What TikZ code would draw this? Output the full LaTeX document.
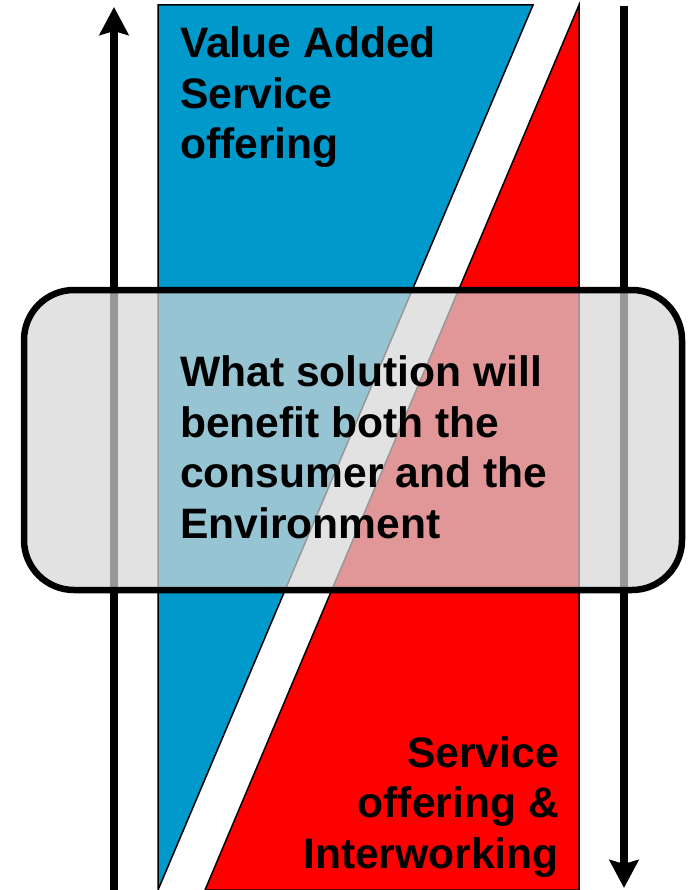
\documentclass[tikz,border=0pt]{standalone}
\usepackage{fontspec}
\setmainfont{Liberation Sans}
\definecolor{ValueBlue}{RGB}{0,153,204}
\definecolor{OfferRed}{RGB}{255,0,0}
\definecolor{PanelGray}{RGB}{214,214,214}
\usetikzlibrary{arrows.meta,positioning}

\begin{document}
\begin{tikzpicture}[x=1pt,y=-1pt,
    band/.style={draw=black,line width=1.5pt,line join=miter},
    flow/.style={-{Stealth[length=28pt,width=29pt,inset=4pt]},line width=8.5pt},
    panel/.style={draw=black,line width=6.5pt,fill=PanelGray,fill opacity=0.71,
                  rounded corners=50pt,minimum width=658pt,minimum height=300pt,inner sep=0pt},
    lbl/.style={font=\bfseries\fontsize{42.6}{50.5}\selectfont,inner sep=0pt}]
    \useasboundingbox (0,0) rectangle (687,890);
    % the two bands
    \filldraw[band,fill=ValueBlue] (158,5) -- (533,5) -- (158,890) -- cycle;
    \filldraw[band,fill=OfferRed] (579,5) -- (579,890) -- (205,890) -- cycle;

    \coordinate (risebot) at (114,890); \coordinate (risetop) at (114,7);
    \coordinate (falltop) at (624,6);   \coordinate (fallbot) at (624,888);
    \draw[flow] (risebot)--(risetop); \draw[flow] (falltop)--(fallbot);

    \node[panel] (question) at (353,440) {};

    \node[lbl,anchor=north west,align=left] (valueadd) at (180,26.5) {Value Added\\Service\\offering};
    \node[lbl,anchor=north west,align=left] (questiontext) at (180,355.5)
        {What solution will\\benefit both the\\consumer and the\\Environment};
    \node[lbl,anchor=north east,align=right] (offering) at (559,736) {Service\\offering \&\\Interworking};
  \end{tikzpicture}
\end{document}
